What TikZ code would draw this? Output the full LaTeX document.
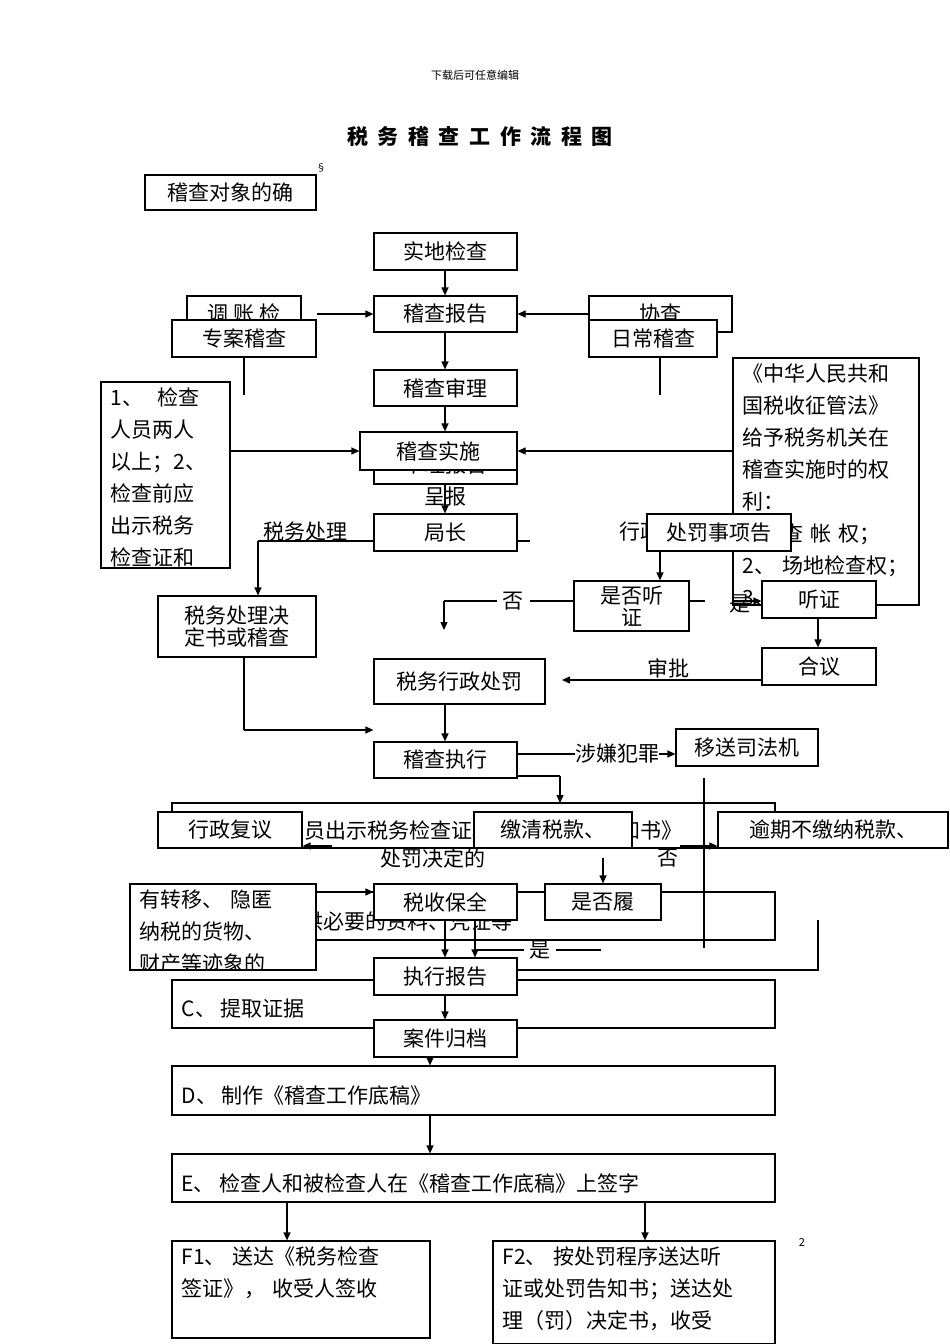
\documentclass[tikz,border=0pt]{standalone}
\usepackage{fontspec}
\setmainfont{Noto Sans CJK SC}
\usetikzlibrary{fit,arrows.meta}
\tikzset{box/.style={draw,line width=1.2pt,fill=white,inner sep=0pt},
 arr/.style={line width=1.2pt,-{Triangle[length=8pt,width=7pt]}},
 ln/.style={line width=1.2pt},
 lbl/.style={font=\fontsize{21}{32}\selectfont,inner sep=0pt}}
\newcommand\bxc[6]{\node[box,fit={(#2,#3) (#4,#5)}] (#1) {};
 \begin{scope}\clip (#1.south west) rectangle (#1.north east);
 \node[lbl] at (#1.center) {#6};\end{scope}}
\newcommand\bxl[7]{\node[box,fit={(#2,#3) (#4,#5)}] (#1) {};
 \begin{scope}\clip (#1.south west) rectangle (#1.north east);
 \node[lbl,anchor=north west,align=left,text width=#7pt] at ([xshift=10pt,yshift=-6pt]#1.north west) {#6};\end{scope}}
\newcommand\bxw[6]{\node[box,fit={(#2,#3) (#4,#5)}] (#1) {};
 \begin{scope}\clip (#1.south west) rectangle (#1.north east);
 \node[lbl,anchor=west] at ([xshift=10pt,yshift=-5pt]#1.west) {#6};\end{scope}}
\begin{document}
\begin{tikzpicture}[x=1pt,y=-1pt]
\useasboundingbox[fill=white] (0,0) rectangle (950,1344);
\node[font=\fontsize{11}{13}\selectfont] (hdr) at (475,75) {下载后可任意编辑};
\node[font=\fontsize{21}{24}\selectfont\bfseries] (ttl) at (480,137) {税\ \ 务\ \ 稽\ \ 查\ \ 工\ \ 作\ \ 流\ \ 程\ \ 图};
\node[font=\fontsize{10}{12}\selectfont] (sec) at (321,168) {§};
\node (pg) [font=\fontsize{11}{13}\selectfont] at (802,1242) {2};
% big background boxes
\bxw{bB}{172}{803}{775}{848}{\hspace*{60pt}检查人员出示税务检查证和《税务检查通知书》}
\bxw{bBb}{172}{892}{775}{940}{\hspace*{100pt}提供必要的资料、凭证等}
\bxw{bC}{172}{980}{775}{1028}{C、\ 提取证据}
\bxw{bD}{172}{1066}{775}{1115}{D、\ 制作《稽查工作底稿》}
\bxw{bE}{172}{1154}{775}{1202}{E、\ 检查人和被检查人在《稽查工作底稿》上签字}
\bxl{bF1}{172}{1241}{430}{1338}{F1、\ 送达《税务检查\\签证》，\ 收受人签收}{240}
\bxl{bF2}{493}{1241}{775}{1344}{F2、\ 按处罚程序送达听\\证或处罚告知书；送达处\\理（罚）决定书，收受}{270}
% top
\bxc{obj}{145}{175}{316}{210}{稽查对象的确}
\bxc{sd}{374}{233}{517}{270}{实地检查}
\bxc{tz}{187}{296}{301}{330}{调 账 检}
\bxc{xc}{589}{296}{732}{332}{协查}
\bxc{bg}{374}{296}{517}{332}{稽查报告}
\bxc{za}{172}{320}{316}{357}{专案稽查}
\bxc{rc}{589}{320}{717}{357}{日常稽查}
\draw[ln] (244,357) -- (244,395); \draw[ln] (660,357) -- (660,395);
\bxc{sl}{374}{370}{517}{406}{稽查审理}
\bxc{slbg}{374}{446}{517}{484}{\raisebox{-16pt}{审理报告}}
\bxc{ss}{360}{432}{517}{470}{稽查实施}
\bxl{left}{101}{382}{230}{568}{1、\ \ 检查\\人员两人\\以上；2、\\检查前应\\出示税务\\检查证和}{110}
\bxl{right}{733}{358}{919}{605}{《中华人民共和\\国税收征管法》\\给予税务机关在\\稽查实施时的权\\利：\\1、\ 查 帐 权；\\2、 场地检查权；\\3、 询问权}{175}
\node[lbl] (cb) at (445,497) {呈报};
\bxc{jz}{374}{514}{517}{551}{局长}
\node[lbl] (swcl) at (305,532) {税务处理};
\node[lbl] (xz) at (640,532) {行政};
\bxc{cf}{647}{514}{791}{551}{处罚事项告}
\bxc{swd}{158}{596}{316}{657}{\raisebox{-16pt}{\shortstack{税务处理决\\定书或稽查}}}
\bxc{sft}{574}{581}{689}{631}{\raisebox{-16pt}{\shortstack{是否听\\证}}}
\node[lbl] (no1) at (513,601) {否};
\node[lbl] (yes1) at (740,604) {是};
\bxc{tzh}{762}{581}{876}{618}{听证}
\bxc{hy}{762}{648}{876}{685}{合议}
\node[lbl] (sp) at (668,668) {审批};
\bxc{xzcf}{374}{659}{545}{704}{税务行政处罚}
\bxc{zx}{374}{742}{517}{778}{稽查执行}
\node[lbl,fill=white] (sx) at (617,754) {涉嫌犯罪};
\bxc{ys}{676}{729}{818}{766}{移送司法机}
\bxc{fy}{158}{812}{302}{848}{行政复议}
\bxc{jq}{474}{812}{632}{848}{缴清税款、}
\bxc{yq}{718}{812}{948}{848}{逾期不缴纳税款、}
\node[lbl] (cfjd) at (433,858) {处罚决定的};
\node[lbl] (no2) at (668,858) {否};
\draw[ln] (704,778) -- (704,948);
\bxl{yzy}{130}{884}{316}{970}{有转移、 隐匿\\纳税的货物、\\财产等迹象的}{170}
\bxc{bq}{374}{884}{517}{920}{税收保全}
\bxc{sflx}{545}{884}{661}{920}{是否履}
\node[lbl] (yes2) at (540,950) {是};
\bxc{zxbg}{374}{958}{517}{995}{执行报告}
\bxc{gd}{374}{1020}{517}{1057}{案件归档}
% connectors
\draw[arr] (sd.south -| 445,0) -- (bg.north -| 445,0);
\draw[arr] (za.east |- bg.west) -- (bg.west);
\draw[arr] (xc.west |- bg.east) -- (bg.east);
\draw[arr] (bg.south -| 445,0) -- (sl.north -| 445,0);
\draw[arr] (sl.south -| 445,0) -- (ss.north -| 445,0);
\draw[arr] (left.east |- ss.west) -- (ss.west);
\draw[arr] (right.west |- ss.east) -- (ss.east);
\draw[arr] (slbg.south -| 445,0) -- (jz.north -| 445,0);
\draw[ln] (jz.west |- 0,541) -- (258,541);
\draw[arr] (258,541) -- (swd.north -| 258,0);
\draw[ln] (jz.east |- 0,541) -- (530,541);
\draw[arr] (cf.south -| 660,0) -- (sft.north -| 660,0);
\draw[ln] (sft.west |- 0,601) -- (530,601);
\draw[ln] (497,601) -- (444,601);
\draw[arr] (444,601) -- (444,630);
\draw[ln] (sft.east |- 0,601) -- (705,601);
\draw[arr] (733,601) -- (tzh.west |- 0,601);
\draw[arr] (tzh.south -| 818,0) -- (hy.north -| 818,0);
\draw[arr] (hy.west |- 0,680) -- (562,680);
\draw[arr] (xzcf.south -| 445,0) -- (zx.north -| 445,0);
\draw[ln] (swd.south -| 244,0) -- (244,730);
\draw[arr] (244,730) -- (zx.west |- 0,730);
\draw[ln] (zx.east |- 0,754) -- (sx.west);
\draw[arr] (sx.east) -- (ys.west |- sx.east);
\draw[ln] (zx.east |- 0,776) -- (560,776);
\draw[arr] (560,776) -- (560,803);
\draw[arr] (332,846) -- (fy.east |- 0,846);
\draw[arr] (680,846) -- (yq.west |- 0,846);
\draw[arr] (603,858) -- (sflx.north -| 603,0);
\draw[arr] (yzy.east |- 0,892) -- (bq.west |- 0,892);
\draw[arr] (bq.south -| 445,0) -- (zxbg.north -| 445,0);
\draw[arr] (bq.south -| 475,0) -- (zxbg.north -| 475,0);
\draw[ln] (601,950) -- (556,950);
\draw[ln] (524,950) -- (475,950);
\draw[ln] (818,920) -- (818,970) -- (517,970);
\draw[arr] (zxbg.south -| 445,0) -- (gd.north -| 445,0);
\draw[arr] (gd.south -| 430,0) -- (bD.north -| 430,0);
\draw[arr] (bD.south -| 430,0) -- (bE.north -| 430,0);
\draw[arr] (bE.south -| 287,0) -- (bF1.north -| 287,0);
\draw[arr] (bE.south -| 645,0) -- (bF2.north -| 645,0);
\end{tikzpicture}
\end{document}
